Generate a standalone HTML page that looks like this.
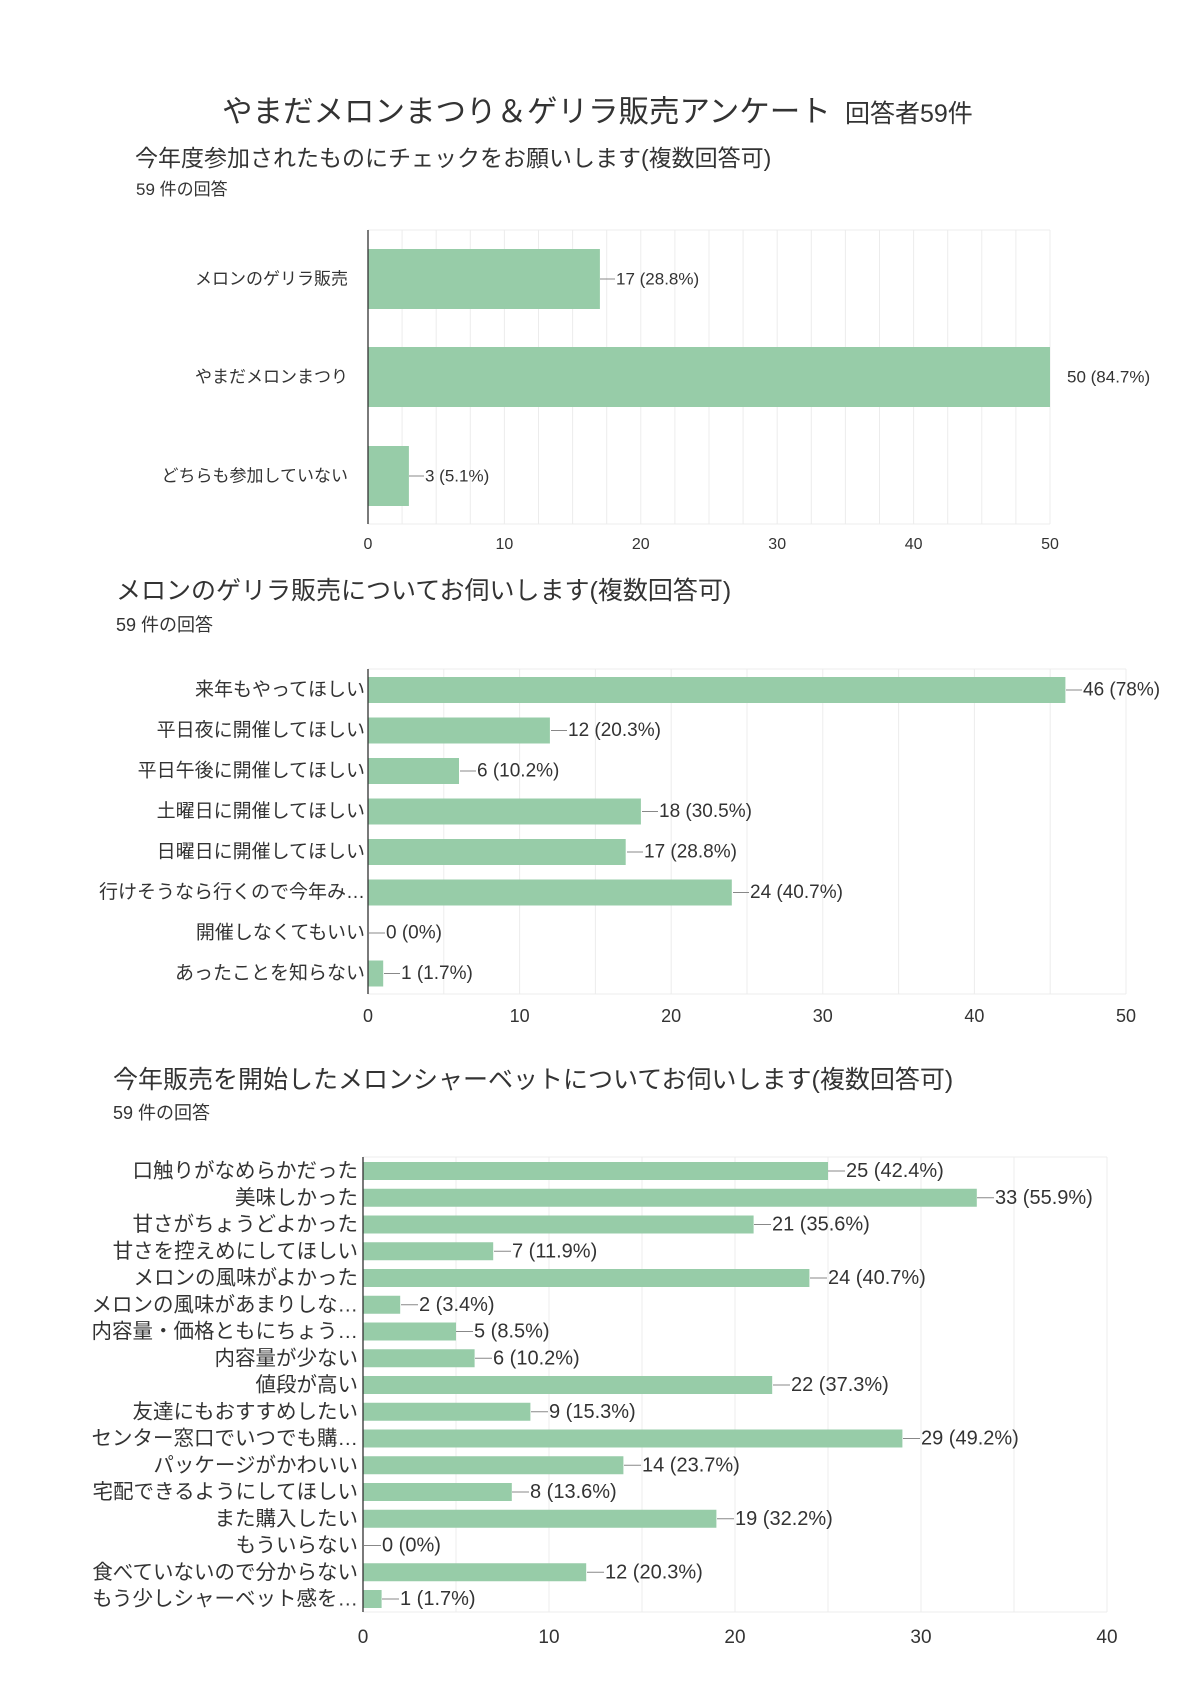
<!DOCTYPE html>
<html><head><meta charset="utf-8"><style>
html,body{margin:0;padding:0;background:#fff}
svg{display:block}
text{font-family:"Liberation Sans","Noto Sans CJK JP",sans-serif;fill:#333}
</style></head><body>
<svg width="1200" height="1697" viewBox="0 0 1200 1697" xmlns="http://www.w3.org/2000/svg">
<rect width="1200" height="1697" fill="#fff"/>
<text x="222" y="122" font-size="30.5" fill="#222">やまだメロンまつり＆ゲリラ販売アンケート</text>
<text x="845" y="122" font-size="25" fill="#222">回答者59件</text>

<!-- Chart 1 -->
<text x="135" y="166" font-size="23" fill="#222">今年度参加されたものにチェックをお願いします(複数回答可)</text>
<text x="136" y="195" font-size="17" fill="#333">59 件の回答</text>
<g stroke="#ececec" stroke-width="1">
<line x1="402.1" y1="230" x2="402.1" y2="524"/><line x1="436.2" y1="230" x2="436.2" y2="524"/><line x1="470.3" y1="230" x2="470.3" y2="524"/><line x1="504.4" y1="230" x2="504.4" y2="524"/><line x1="538.5" y1="230" x2="538.5" y2="524"/><line x1="572.6" y1="230" x2="572.6" y2="524"/><line x1="606.7" y1="230" x2="606.7" y2="524"/><line x1="640.8" y1="230" x2="640.8" y2="524"/><line x1="674.9" y1="230" x2="674.9" y2="524"/><line x1="709" y1="230" x2="709" y2="524"/><line x1="743.1" y1="230" x2="743.1" y2="524"/><line x1="777.2" y1="230" x2="777.2" y2="524"/><line x1="811.3" y1="230" x2="811.3" y2="524"/><line x1="845.4" y1="230" x2="845.4" y2="524"/><line x1="879.5" y1="230" x2="879.5" y2="524"/><line x1="913.6" y1="230" x2="913.6" y2="524"/><line x1="947.7" y1="230" x2="947.7" y2="524"/><line x1="981.8" y1="230" x2="981.8" y2="524"/><line x1="1015.9" y1="230" x2="1015.9" y2="524"/><line x1="1050" y1="230" x2="1050" y2="524"/>
<line x1="368" y1="230" x2="1050" y2="230"/><line x1="368" y1="524" x2="1050" y2="524"/>
</g>
<g fill="#97cca8">
<rect x="368" y="249" width="231.9" height="60"/>
<rect x="368" y="347" width="682" height="60"/>
<rect x="368" y="446" width="40.9" height="60"/>
</g>
<line x1="368" y1="230" x2="368" y2="524" stroke="#333" stroke-width="1.3"/>
<g font-size="17" text-anchor="end" fill="#444">
<text x="348" y="279" dominant-baseline="central">メロンのゲリラ販売</text>
<text x="348" y="377" dominant-baseline="central">やまだメロンまつり</text>
<text x="348" y="476" dominant-baseline="central">どちらも参加していない</text>
</g>
<g stroke="#888"><line x1="600" y1="279" x2="615" y2="279"/><line x1="409" y1="476" x2="424" y2="476"/></g>
<g font-size="17">
<text x="616" y="279" dominant-baseline="central">17 (28.8%)</text>
<text x="1067" y="377" dominant-baseline="central">50 (84.7%)</text>
<text x="425" y="476" dominant-baseline="central">3 (5.1%)</text>
</g>
<g font-size="16" text-anchor="middle" fill="#555">
<text x="368" y="549">0</text><text x="504.4" y="549">10</text><text x="640.8" y="549">20</text><text x="777.2" y="549">30</text><text x="913.6" y="549">40</text><text x="1050" y="549">50</text>
</g>

<!-- Chart 2 -->
<text x="116" y="599" font-size="25" fill="#222">メロンのゲリラ販売についてお伺いします(複数回答可)</text>
<text x="116" y="631" font-size="18" fill="#333">59 件の回答</text>
<g stroke="#ececec">
<line x1="443.8" y1="669" x2="443.8" y2="994"/><line x1="519.6" y1="669" x2="519.6" y2="994"/><line x1="595.4" y1="669" x2="595.4" y2="994"/><line x1="671.2" y1="669" x2="671.2" y2="994"/><line x1="747" y1="669" x2="747" y2="994"/><line x1="822.8" y1="669" x2="822.8" y2="994"/><line x1="898.6" y1="669" x2="898.6" y2="994"/><line x1="974.4" y1="669" x2="974.4" y2="994"/><line x1="1050.2" y1="669" x2="1050.2" y2="994"/><line x1="1126" y1="669" x2="1126" y2="994"/>
<line x1="368" y1="669" x2="1126" y2="669"/><line x1="368" y1="994" x2="1126" y2="994"/>
</g>
<g fill="#97cca8">
<rect x="368" y="677" width="697.4" height="26"/>
<rect x="368" y="717.5" width="181.9" height="26"/>
<rect x="368" y="758" width="91" height="26"/>
<rect x="368" y="798.5" width="272.9" height="26"/>
<rect x="368" y="839" width="257.7" height="26"/>
<rect x="368" y="879.5" width="363.8" height="26"/>
<rect x="368" y="960.5" width="15.2" height="26"/>
</g>
<line x1="368" y1="669" x2="368" y2="994" stroke="#333" stroke-width="1.3"/>
<g font-size="19" text-anchor="end" fill="#333">
<text x="365" y="690" dominant-baseline="central">来年もやってほしい</text>
<text x="365" y="730.5" dominant-baseline="central">平日夜に開催してほしい</text>
<text x="365" y="771" dominant-baseline="central">平日午後に開催してほしい</text>
<text x="365" y="811.5" dominant-baseline="central">土曜日に開催してほしい</text>
<text x="365" y="852" dominant-baseline="central">日曜日に開催してほしい</text>
<text x="365" y="892.5" dominant-baseline="central">行けそうなら行くので今年み…</text>
<text x="365" y="933" dominant-baseline="central">開催しなくてもいい</text>
<text x="365" y="973.5" dominant-baseline="central">あったことを知らない</text>
</g>
<g stroke="#888">
<line x1="1066" y1="690" x2="1082" y2="690"/><line x1="551" y1="730.5" x2="567" y2="730.5"/><line x1="460" y1="771" x2="476" y2="771"/><line x1="642" y1="811.5" x2="658" y2="811.5"/><line x1="627" y1="852" x2="643" y2="852"/><line x1="733" y1="892.5" x2="749" y2="892.5"/><line x1="369" y1="933" x2="385" y2="933"/><line x1="384" y1="973.5" x2="400" y2="973.5"/>
</g>
<g font-size="19">
<text x="1083" y="690" dominant-baseline="central">46 (78%)</text>
<text x="568" y="730.5" dominant-baseline="central">12 (20.3%)</text>
<text x="477" y="771" dominant-baseline="central">6 (10.2%)</text>
<text x="659" y="811.5" dominant-baseline="central">18 (30.5%)</text>
<text x="644" y="852" dominant-baseline="central">17 (28.8%)</text>
<text x="750" y="892.5" dominant-baseline="central">24 (40.7%)</text>
<text x="386" y="933" dominant-baseline="central">0 (0%)</text>
<text x="401" y="973.5" dominant-baseline="central">1 (1.7%)</text>
</g>
<g font-size="18" text-anchor="middle" fill="#444">
<text x="368" y="1022">0</text><text x="519.6" y="1022">10</text><text x="671.2" y="1022">20</text><text x="822.8" y="1022">30</text><text x="974.4" y="1022">40</text><text x="1126" y="1022">50</text>
</g>

<!-- Chart 3 -->
<text x="113" y="1088" font-size="25" fill="#222">今年販売を開始したメロンシャーベットについてお伺いします(複数回答可)</text>
<text x="113" y="1119" font-size="18" fill="#333">59 件の回答</text>
<g stroke="#ececec">
<line x1="456" y1="1157" x2="456" y2="1612"/><line x1="549" y1="1157" x2="549" y2="1612"/><line x1="642" y1="1157" x2="642" y2="1612"/><line x1="735" y1="1157" x2="735" y2="1612"/><line x1="828" y1="1157" x2="828" y2="1612"/><line x1="921" y1="1157" x2="921" y2="1612"/><line x1="1014" y1="1157" x2="1014" y2="1612"/><line x1="1107" y1="1157" x2="1107" y2="1612"/>
<line x1="363" y1="1157" x2="1107" y2="1157"/><line x1="363" y1="1612" x2="1107" y2="1612"/>
</g>
<g fill="#97cca8">
<rect x="363" y="1162" width="465" height="18"/>
<rect x="363" y="1188.75" width="613.8" height="18"/>
<rect x="363" y="1215.5" width="390.6" height="18"/>
<rect x="363" y="1242.25" width="130.2" height="18"/>
<rect x="363" y="1269" width="446.4" height="18"/>
<rect x="363" y="1295.75" width="37.2" height="18"/>
<rect x="363" y="1322.5" width="93" height="18"/>
<rect x="363" y="1349.25" width="111.6" height="18"/>
<rect x="363" y="1376" width="409.2" height="18"/>
<rect x="363" y="1402.75" width="167.4" height="18"/>
<rect x="363" y="1429.5" width="539.4" height="18"/>
<rect x="363" y="1456.25" width="260.4" height="18"/>
<rect x="363" y="1483" width="148.8" height="18"/>
<rect x="363" y="1509.75" width="353.4" height="18"/>
<rect x="363" y="1563.25" width="223.2" height="18"/>
<rect x="363" y="1590" width="18.6" height="18"/>
</g>
<line x1="363" y1="1157" x2="363" y2="1612" stroke="#333" stroke-width="1.3"/>
<g font-size="20.5" text-anchor="end" fill="#333">
<text x="358" y="1171" dominant-baseline="central">口触りがなめらかだった</text>
<text x="358" y="1197.75" dominant-baseline="central">美味しかった</text>
<text x="358" y="1224.5" dominant-baseline="central">甘さがちょうどよかった</text>
<text x="358" y="1251.25" dominant-baseline="central">甘さを控えめにしてほしい</text>
<text x="358" y="1278" dominant-baseline="central">メロンの風味がよかった</text>
<text x="358" y="1304.75" dominant-baseline="central">メロンの風味があまりしな…</text>
<text x="358" y="1331.5" dominant-baseline="central">内容量・価格ともにちょう…</text>
<text x="358" y="1358.25" dominant-baseline="central">内容量が少ない</text>
<text x="358" y="1385" dominant-baseline="central">値段が高い</text>
<text x="358" y="1411.75" dominant-baseline="central">友達にもおすすめしたい</text>
<text x="358" y="1438.5" dominant-baseline="central">センター窓口でいつでも購…</text>
<text x="358" y="1465.25" dominant-baseline="central">パッケージがかわいい</text>
<text x="358" y="1492" dominant-baseline="central">宅配できるようにしてほしい</text>
<text x="358" y="1518.75" dominant-baseline="central">また購入したい</text>
<text x="358" y="1545.5" dominant-baseline="central">もういらない</text>
<text x="358" y="1572.25" dominant-baseline="central">食べていないので分からない</text>
<text x="358" y="1599" dominant-baseline="central">もう少しシャーベット感を…</text>
</g>
<g stroke="#888">
<line x1="828" y1="1171" x2="845" y2="1171"/><line x1="977" y1="1197.75" x2="994" y2="1197.75"/><line x1="754" y1="1224.5" x2="771" y2="1224.5"/><line x1="494" y1="1251.25" x2="511" y2="1251.25"/><line x1="810" y1="1278" x2="827" y2="1278"/><line x1="401" y1="1304.75" x2="418" y2="1304.75"/><line x1="456" y1="1331.5" x2="473" y2="1331.5"/><line x1="475" y1="1358.25" x2="492" y2="1358.25"/><line x1="773" y1="1385" x2="790" y2="1385"/><line x1="531" y1="1411.75" x2="548" y2="1411.75"/><line x1="903" y1="1438.5" x2="920" y2="1438.5"/><line x1="624" y1="1465.25" x2="641" y2="1465.25"/><line x1="512" y1="1492" x2="529" y2="1492"/><line x1="717" y1="1518.75" x2="734" y2="1518.75"/><line x1="364" y1="1545.5" x2="381" y2="1545.5"/><line x1="587" y1="1572.25" x2="604" y2="1572.25"/><line x1="382" y1="1599" x2="399" y2="1599"/>
</g>
<g font-size="20">
<text x="846" y="1171" dominant-baseline="central">25 (42.4%)</text>
<text x="995" y="1197.75" dominant-baseline="central">33 (55.9%)</text>
<text x="772" y="1224.5" dominant-baseline="central">21 (35.6%)</text>
<text x="512" y="1251.25" dominant-baseline="central">7 (11.9%)</text>
<text x="828" y="1278" dominant-baseline="central">24 (40.7%)</text>
<text x="419" y="1304.75" dominant-baseline="central">2 (3.4%)</text>
<text x="474" y="1331.5" dominant-baseline="central">5 (8.5%)</text>
<text x="493" y="1358.25" dominant-baseline="central">6 (10.2%)</text>
<text x="791" y="1385" dominant-baseline="central">22 (37.3%)</text>
<text x="549" y="1411.75" dominant-baseline="central">9 (15.3%)</text>
<text x="921" y="1438.5" dominant-baseline="central">29 (49.2%)</text>
<text x="642" y="1465.25" dominant-baseline="central">14 (23.7%)</text>
<text x="530" y="1492" dominant-baseline="central">8 (13.6%)</text>
<text x="735" y="1518.75" dominant-baseline="central">19 (32.2%)</text>
<text x="382" y="1545.5" dominant-baseline="central">0 (0%)</text>
<text x="605" y="1572.25" dominant-baseline="central">12 (20.3%)</text>
<text x="400" y="1599" dominant-baseline="central">1 (1.7%)</text>
</g>
<g font-size="19" text-anchor="middle" fill="#444">
<text x="363" y="1643">0</text><text x="549" y="1643">10</text><text x="735" y="1643">20</text><text x="921" y="1643">30</text><text x="1107" y="1643">40</text>
</g>
</svg>
</body></html>
